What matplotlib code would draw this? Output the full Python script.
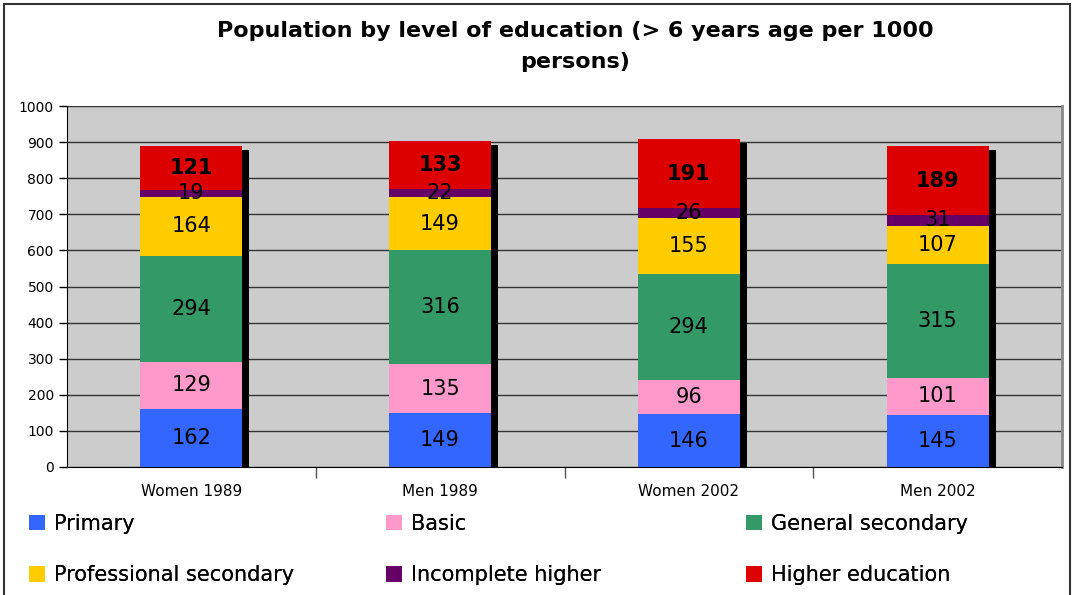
import matplotlib
matplotlib.use("Agg")
import matplotlib.pyplot as plt
import numpy as np
from matplotlib.patches import Patch, Rectangle

groups = ["Women 1989", "Men 1989", "Women 2002", "Men 2002"]
levels = ["Primary", "Basic", "General secondary",
          "Professional secondary", "Incomplete higher", "Higher education"]
primary = [162, 149, 146, 145]
basic = [129, 135, 96, 101]
general_sec = [294, 316, 294, 315]
prof_sec = [164, 149, 155, 107]
incomplete = [19, 22, 26, 31]
higher = [121, 133, 191, 189]

series = [primary, basic, general_sec, prof_sec, incomplete, higher]
colors = ["#3366FF", "#FF99CC", "#339966", "#FFCC00", "#660066", "#DD0000"]

fig = plt.figure(figsize=(10.73, 5.95), dpi=100)
ax = fig.add_axes([67 / 1073, 128 / 595, 995 / 1073, 361 / 595])
ax.set_facecolor("#CCCCCC")

x = np.arange(len(groups))
w = 0.41
totals = np.sum(series, axis=0)

# shadow behind each stack
ax.bar(x + w / 2 + 0.014, totals - 11, width=0.028, color="black", zorder=2)

bottom = np.zeros(len(groups))
for vals, col, name in zip(series, colors, levels):
    ax.bar(x, vals, w, bottom=bottom, color=col, zorder=3, label=name)
    for xi, b, v in zip(x, bottom, vals):
        bold = name == "Higher education"
        ax.text(xi, b + v / 2, str(v), ha="center", va="center",
                fontsize=15, fontweight="bold" if bold else "normal",
                color="black", zorder=4)
    bottom += np.array(vals)

ax.set_xlim(-0.5, 3.5)
ax.set_ylim(0, 1000)
ax.set_yticks(np.arange(0, 1001, 100))
ax.yaxis.grid(True, color="#333333", linewidth=1)
ax.set_axisbelow(True)
ax.tick_params(axis="y", labelsize=10, length=6, width=1)
ax.set_xticks(x)
ax.set_xticklabels(groups, fontsize=11)
ax.set_xticks(np.arange(0.5, 3.5, 1), minor=True)
ax.tick_params(axis="x", which="major", length=0, pad=12)
ax.tick_params(axis="x", which="minor", length=8, width=1, color="#555555")
ax.spines["top"].set_visible(False)
ax.spines["right"].set_color("#888888")
ax.spines["right"].set_linewidth(2)

fig.text(0.536, 0.948, "Population by level of education (> 6 years age per 1000",
         ha="center", va="center", fontsize=16, fontweight="bold")
fig.text(0.536, 0.895, "persons)", ha="center", va="center",
         fontsize=16, fontweight="bold")

# one legend per column, placed like the original
col_x = [29 / 1073, 386 / 1073, 746 / 1073]
col_items = [[0, 3], [1, 4], [2, 5]]
for cx, items in zip(col_x, col_items):
    handles = [Patch(facecolor=colors[i], label=levels[i]) for i in items]
    leg = fig.legend(handles=handles, loc="upper left",
                     bbox_to_anchor=(cx, 1 - 514 / 595),
                     frameon=False, fontsize=15, handlelength=0.75,
                     handleheight=0.75, handletextpad=0.45,
                     labelspacing=1.5, borderaxespad=0, borderpad=0)
    fig.add_artist(leg)

# outer chart frame, cut off at the bottom like the original
fig.patches.append(Rectangle((4 / 1073, -10 / 595), 1066 / 1073, 601 / 595,
                             transform=fig.transFigure, fill=False,
                             edgecolor="#333333", linewidth=1.5))

fig.savefig("out.png", dpi=100)
